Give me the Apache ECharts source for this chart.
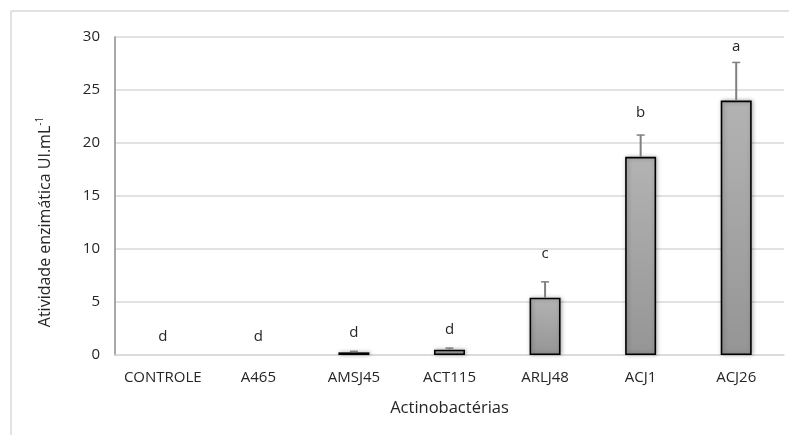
<!DOCTYPE html>
<html>
<head>
<meta charset="utf-8">
<script src="https://cdn.jsdelivr.net/npm/echarts@6/dist/echarts.min.js"></script>
<style>
html,body{margin:0;padding:0;background:#fff;}
#chart{width:789px;height:435px;}
</style>
</head>
<body>
<div id="chart"></div>
<script>
var categories = ['CONTROLE', 'A465', 'AMSJ45', 'ACT115', 'ARLJ48', 'ACJ1', 'ACJ26'];
var means = [0, 0, 0.25, 0.5, 5.4, 18.7, 24.0];
var errorTops = [0, 0, 0.35, 0.65, 6.9, 20.75, 27.6];
var letters = ['d', 'd', 'd', 'd', 'c', 'b', 'a'];
var letterPos = [1.7, 1.7, 2.1, 2.35, 9.6, 22.9, 29.1];
var yTicks = [0, 5, 10, 15, 20, 25, 30];

var FONT = 'Open Sans';
var chart = echarts.init(document.getElementById('chart'), null, {renderer: 'canvas'});

var option = {
  backgroundColor: '#fff',
  animation: false,
  textStyle: {fontFamily: FONT},
  grid: {left: 115, right: 5, top: 37, bottom: 80},
  graphic: [
    {type: 'line', shape: {x1: 11, y1: 11, x2: 789, y2: 11}, style: {stroke: '#d9d9d9', lineWidth: 1.5}},
    {type: 'line', shape: {x1: 11, y1: 11, x2: 11, y2: 435}, style: {stroke: '#d9d9d9', lineWidth: 1.5}},
    {type: 'text', rotation: Math.PI / 2,
      style: {
        text: '{m|Atividade enzimática UI.mL}{s|-1}',
        align: 'center', verticalAlign: 'middle',
        rich: {
          m: {fontFamily: FONT, fontSize: 16, fill: '#262626'},
          s: {fontFamily: FONT, fontSize: 10, fill: '#262626', verticalAlign: 'top', padding: [0, 0, 9, 0]}
        }
      },
      x: 45, y: 222
    }
  ],
  xAxis: {
    type: 'category',
    data: categories,
    name: 'Actinobactérias',
    nameLocation: 'middle',
    nameGap: 45,
    nameTextStyle: {fontFamily: FONT, fontSize: 16.5, color: '#262626'},
    axisLine: {show: true, lineStyle: {color: '#d9d9d9', width: 1.5}},
    axisTick: {show: false},
    axisLabel: {interval: 0, fontFamily: FONT, fontSize: 15, color: '#262626', margin: 15}
  },
  yAxis: {
    type: 'value',
    min: 0, max: 30, interval: 5,
    axisLine: {show: true, lineStyle: {color: '#8c8c8c', width: 1.5}},
    axisTick: {show: false},
    axisLabel: {fontFamily: FONT, fontSize: 15, color: '#262626', margin: 15,
      formatter: function (v) { return yTicks.indexOf(v) >= 0 ? String(v) : ''; }},
    splitLine: {lineStyle: {color: '#d9d9d9', width: 1.5}}
  },
  series: [
    {
      type: 'bar',
      data: means.map(function (v) { return v > 0 ? v : {value: v, itemStyle: {borderWidth: 0, opacity: 0}}; }),
      barWidth: 31,
      itemStyle: {
        color: new echarts.graphic.LinearGradient(0, 0, 0, 1, [
          {offset: 0, color: '#b3b3b3'},
          {offset: 1, color: '#959595'}
        ]),
        borderColor: '#000',
        borderWidth: 1.6,
        shadowColor: 'rgba(0,0,0,0.3)',
        shadowBlur: 4,
        shadowOffsetX: 1
      },
      z: 2
    },
    {
      type: 'custom',
      z: 3,
      data: categories.map(function (c, i) { return [i, means[i], errorTops[i], letterPos[i]]; }),
      renderItem: function (params, api) {
        var i = api.value(0);
        var p0 = api.coord([i, api.value(1)]);
        var p1 = api.coord([i, api.value(2)]);
        var pl = api.coord([i, api.value(3)]);
        var children = [];
        if (api.value(2) > 0) {
          if (p0[1] - p1[1] > 1) {
            children.push({type: 'line', shape: {x1: p0[0], y1: p0[1], x2: p1[0], y2: p1[1]}, style: {stroke: '#7f7f7f', lineWidth: 2}});
          }
          children.push({type: 'line', shape: {x1: p1[0] - 4, y1: p1[1], x2: p1[0] + 4, y2: p1[1]}, style: {stroke: '#7f7f7f', lineWidth: 1.5}});
        }
        children.push({type: 'text', style: {text: letters[params.dataIndex], x: pl[0], y: pl[1], align: 'center', verticalAlign: 'middle', fontFamily: FONT, fontSize: 15, fill: '#262626'}});
        return {type: 'group', children: children};
      }
    }
  ]
};
chart.setOption(option);
</script>
</body>
</html>
